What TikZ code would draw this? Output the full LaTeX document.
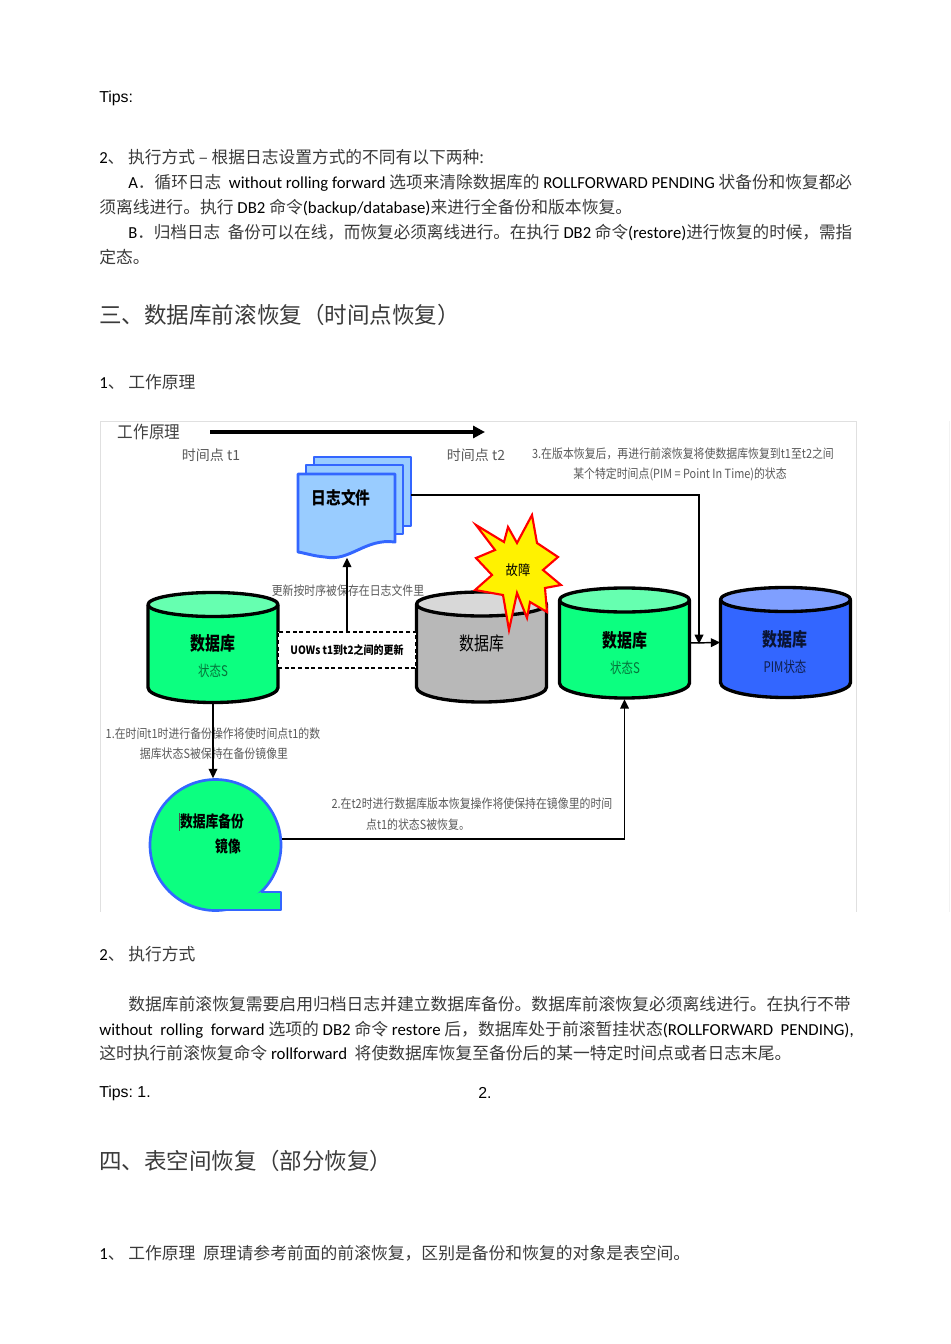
\documentclass[tikz,border=0pt]{standalone}
\usepackage{fontspec}
\usepackage{tikz}
\usetikzlibrary{arrows.meta}
\setmainfont{Carlito}
\newfontfamily\cjk{Noto Sans CJK SC}
\newfontfamily\arialfont{Liberation Sans}
\definecolor{zhgray}{HTML}{3A3A3A}
\definecolor{dbgreen}{HTML}{0CFF80}
\definecolor{dbgreentop}{HTML}{66FFB0}
\definecolor{dbgray}{HTML}{B8B8B8}
\definecolor{dbgraytop}{HTML}{D8D8D8}
\definecolor{dbblue}{HTML}{3366FF}
\definecolor{dbbluetop}{HTML}{7F9FFF}
\definecolor{logfill}{HTML}{99CCFF}
\newcommand{\zh}[1]{{\cjk\color{zhgray}#1}}
\frenchspacing
\tikzset{
  bodyline/.style={anchor=base west,yshift=-4.5pt,inner sep=0pt,font=\fontsize{12.6}{14}\selectfont},
  headline/.style={anchor=base west,yshift=-6pt,inner sep=0pt,font=\fontsize{16.9}{20}\selectfont},
  tipsline/.style={anchor=west,inner sep=0pt,font=\arialfont\fontsize{11.9}{14}\selectfont},
  dbnode/.style={minimum width=130*0.75pt,minimum height=112*0.75pt,inner sep=0pt},
  dbline/.style={draw=black,line width=2.5pt,line join=round},
  dbname/.style={inner sep=0pt,font=\cjk\bfseries\fontsize{14}{16}\selectfont,xscale=0.8},
  dbstate/.style={inner sep=0pt,font=\cjk\fontsize{11}{13}\selectfont,xscale=0.78},
  note/.style={inner sep=0pt,text=black!65,font=\cjk\fontsize{9.5}{11}\selectfont,xscale=0.86},
  timelabel/.style={inner sep=0pt,text=black!65,font=\cjk\fontsize{10.5}{12}\selectfont},
  link/.style={draw=black,line width=1.1pt,-{Triangle[length=7pt,width=6.5pt]}},
  sheet/.style={draw=dbblue,fill=logfill,line width=2.2pt,line join=round}
}
\begin{document}
\begin{tikzpicture}[x=0.75pt,y=-0.75pt]
  \useasboundingbox (0,0) rectangle (950,1344);
  % text above the figure
  \node[tipsline] (tipsa) at (99,98) {Tips:};
  \node[bodyline,xscale=0.996] (stepb) at (99,158) {2\zh{、 执行方式 – 根据日志设置方式的不同有以下两种:}};
  \node[bodyline,xscale=0.993] (linea) at (128,183) {A\zh{．循环日志}\ \ without rolling forward \zh{选项来清除数据库的} ROLLFORWARD PENDING \zh{状备份和恢复都必}};
  \node[bodyline] (lineb) at (99,208) {\zh{须离线进行。执行} DB2 \zh{命令}(backup/database)\zh{来进行全备份和版本恢复。}};
  \node[bodyline,xscale=0.988] (linec) at (128,233) {B\zh{．归档日志}\ \ \zh{备份可以在线，而恢复必须离线进行。在执行} DB2 \zh{命令}(restore)\zh{进行恢复的时候，需指}};
  \node[bodyline] (lined) at (99,258) {\zh{定态。}};
  \node[headline] (headc) at (99,315) {\zh{三、数据库前滚恢复（时间点恢复）}};
  \node[bodyline] (stepa) at (99,382) {1\zh{、 工作原理}};
  % figure frame
  \draw[black!12] (100,912) -- (100,421) -- (856,421) -- (856,912);
  \draw[black!5] (949,421) -- (949,912);
  % time arrow
  \coordinate (tstart) at (210,432);
  \coordinate (tend) at (485,432);
  \draw[line width=2.6pt,-{Triangle[length=9pt,width=9pt]}] (tstart) -- (tend);
  \node[inner sep=0pt,text=black!75,font=\cjk\fontsize{13}{15}\selectfont,xscale=0.9] (title) at (149,432) {工作原理};
  \node[timelabel] (tone) at (211,455) {时间点 t1};
  \node[timelabel] (ttwo) at (476,455) {时间点 t2};
  \node[note] (notec) at (683,454) {3.在版本恢复后，再进行前滚恢复将使数据库恢复到t1至t2之间};
  \node[note] (noted) at (680,474) {某个特定时间点(PIM = Point In Time)的状态};
  % log files
  \foreach \px/\py in {314/457,306/465}
    \draw[sheet] (\px,\py) rectangle ++(97,69);
  \draw[sheet] (298,474) -- (395,474) -- (395,542)
    .. controls (365,538) and (350,562) .. (325,557)
    .. controls (313,556) and (305,553) .. (298,552) -- cycle;
  \node[minimum width=113*0.75pt,minimum height=101*0.75pt,inner sep=0pt] (logfile) at (354.5,507) {};
  \node[inner sep=0pt,font=\cjk\bfseries\fontsize{13}{15}\selectfont,xscale=0.85] (logname) at (341,498) {日志文件};
  \coordinate (logout) at (411,495);
  \coordinate (logdrop) at (699,644);
  % databases
  \foreach \dbid/\cx/\cy/\dbbody/\dbtop in {dbs/213/647.5/dbgreen/dbgreentop,dbfail/481.5/647/dbgray/dbgraytop,
      dbt/624.5/643/dbgreen/dbgreentop,dbpim/785.5/642.5/dbblue/dbbluetop} {
    \node[dbnode] (\dbid) at (\cx,\cy) {};
    \begin{scope}[shift={(\dbid.center)}]
      \draw[dbline,fill=\dbbody] (-65,-43) -- (-65,40) .. controls (-65,48) and (-38,55) .. (0,55)
        .. controls (38,55) and (65,48) .. (65,40) -- (65,-43);
      \draw[dbline,fill=\dbtop] (0,-43) ellipse (65 and 12);
    \end{scope}
  }
  \node[dbname] (dbsname) at (213,643) {数据库};
  \node[dbstate,text=black!55!dbgreen] (dbsstate) at (213,671) {状态S};
  \node[dbname,font=\cjk\fontsize{14}{16}\selectfont] (dbfailname) at (482,643) {数据库};
  \node[dbname] (dbtname) at (625,640) {数据库};
  \node[dbstate,text=black!55!dbgreen] (dbtstate) at (625,668) {状态S};
  \node[dbname,text=black!80!dbblue] (dbpimname) at (785,639) {数据库};
  \node[dbstate,text=black!70!dbblue] (dbpimstate) at (785,667) {PIM状态};
  % failure burst
  \draw[draw=red,fill=yellow,line width=1.6pt,line join=miter]
    (532,515) -- (537,543) -- (558,557) -- (543,570) -- (561,585) -- (545,588) -- (547,612)
    -- (530,602) -- (527,618) -- (517,593) -- (509,630) -- (503,595) -- (475,590) -- (492,575)
    -- (476,558) -- (495,550) -- (476,525) -- (504,542) -- (508,527) -- (517,543) -- cycle;
  \node[inner sep=0pt,font=\cjk\fontsize{10.5}{12}\selectfont,xscale=0.88] (fault) at (518,570) {故障};
  % updates between t1 and t2
  \node[draw=black,densely dashed,line width=1.6pt,fill=white,minimum width=138*0.75pt,minimum height=36*0.75pt,inner sep=0pt,
    font=\cjk\bfseries\fontsize{8.6}{10}\selectfont] (uow) at (347,650) {\scalebox{0.87}[1]{UOWs t1到t2之间的更新}};
  \node[note] (notelog) at (348,591) {更新按时序被保存在日志文件里};
  % backup image
  \node[circle,draw=dbblue,fill=dbgreen,line width=2pt,minimum size=131*0.75pt,inner sep=0pt] (backup) at (215.5,845) {};
  \fill[dbgreen] (261,892) -- (281,892) -- (281,910) -- (215,910) -- cycle;
  \draw[draw=dbblue,line width=2pt,line join=round] (261,892) -- (281,892) -- (281,910) -- (215,910);
  \node[inner sep=0pt,font=\cjk\bfseries\fontsize{12}{14}\selectfont,xscale=0.8] (backupa) at (212,821) {数据库备份};
  \node[inner sep=0pt,font=\cjk\bfseries\fontsize{12}{14}\selectfont,xscale=0.8] (backupb) at (228,846) {镜像};
  \draw[black!70] (179,813) -- (179,831);
  \node[note] (notea) at (213,734) {1.在时间t1时进行备份操作将使时间点t1的数};
  \node[note] (noteb) at (214,754) {据库状态S被保持在备份镜像里};
  \node[note] (notee) at (472,804) {2.在t2时进行数据库版本恢复操作将使保持在镜像里的时间};
  \node[note] (notef) at (418,825) {点t1的状态S被恢复。};
  % connectors
  \draw[link] (logout) -| (logdrop);
  \draw[link] (uow.north) -- (uow.north |- logfile.south);
  \draw[link] (dbs.south) -- (dbs.south |- backup.north);
  \draw[link] (backup.5) -| (dbt.south);
  \draw[link] (dbt.east) -- (dbpim.west);
  % text below the figure
  \node[bodyline] (stepc) at (99,954) {2\zh{、 执行方式}};
  \node[bodyline] (linee) at (128,1004) {\zh{数据库前滚恢复需要启用归档日志并建立数据库备份。数据库前滚恢复必须离线进行。在执行不带}};
  \node[bodyline] (linef) at (99,1029) {without\ \ rolling\ \ forward \zh{选项的} DB2 \zh{命令} restore \zh{后，数据库处于前滚暂挂状态}(ROLLFORWARD\ \ PENDING),};
  \node[bodyline] (lineg) at (99,1053) {\zh{这时执行前滚恢复命令} rollforward\ \ \zh{将使数据库恢复至备份后的某一特定时间点或者日志末尾。}};
  \node[tipsline] (tipsb) at (99,1093) {Tips: 1.};
  \node[tipsline] (tipsc) at (478,1093) {2.};
  \node[headline] (headd) at (99,1161) {\zh{四、表空间恢复（部分恢复）}};
  \node[bodyline] (stepd) at (99,1253) {1\zh{、 工作原理\ \ 原理请参考前面的前滚恢复，区别是备份和恢复的对象是表空间。}};
\end{tikzpicture}
\end{document}
